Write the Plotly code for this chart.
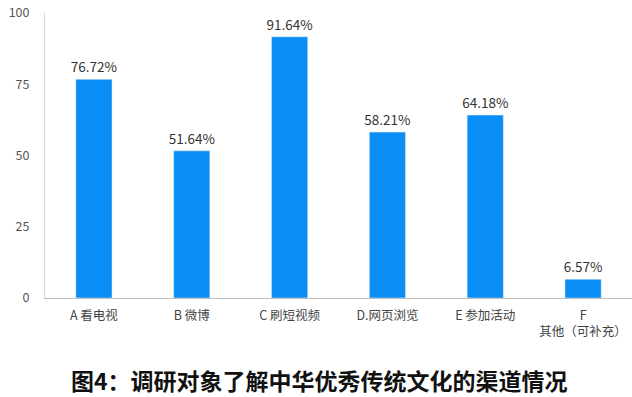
import plotly.graph_objects as go

categories = ["A 看电视", "B 微博", "C 刷短视频", "D.网页浏览", "E 参加活动", "F<br>其他（可补充）"]
values = [76.72, 51.64, 91.64, 58.21, 64.18, 6.57]
labels = ["76.72%", "51.64%", "91.64%", "58.21%", "64.18%", "6.57%"]
yticks = [0, 25, 50, 75, 100]

font_family = "Noto Sans CJK SC, Noto Sans, sans-serif"

W, H = 632, 397
L, T, B, R = 45, 13, 99, 0
plot_h = H - T - B
plot_w = W - L - R

fig = go.Figure(go.Bar(
    x=categories, y=values, text=labels, textposition="outside",
    marker_color="#0A8EF5", width=0.37, constraintext="none",
    textfont=dict(size=13.5, color="#333333", family=font_family),
    cliponaxis=False, hoverinfo="skip",
))
fig.update_layout(
    width=W, height=H,
    margin=dict(l=L, r=R, t=T, b=B),
    plot_bgcolor="white", paper_bgcolor="white",
    showlegend=False,
    font=dict(family=font_family),
    xaxis=dict(showline=True, linecolor="#BFBFBF", linewidth=1, ticks="",
               tickfont=dict(size=12.5, color="#444444"), showgrid=False,
               ticklabelstandoff=6),
    yaxis=dict(range=[0, 100], tickvals=yticks, showgrid=False, zeroline=False,
               showline=True, linecolor="#D9D9D9", linewidth=1,
               tickfont=dict(size=12.5, color="#555555"), ticklabelstandoff=12),
    annotations=[dict(text="<b>图4：调研对象了解中华优秀传统文化的渠道情况</b>",
                      x=(319 - L) / plot_w, xref="paper", xanchor="center",
                      y=(298 - 380) / plot_h, yref="paper", yanchor="middle",
                      showarrow=False, borderpad=0,
                      font=dict(size=23, color="#111111", family=font_family))],
)
fig.write_html("out.html", config={"displayModeBar": False},
               post_script="document.body.style.margin='0';document.body.style.overflow='hidden';")
